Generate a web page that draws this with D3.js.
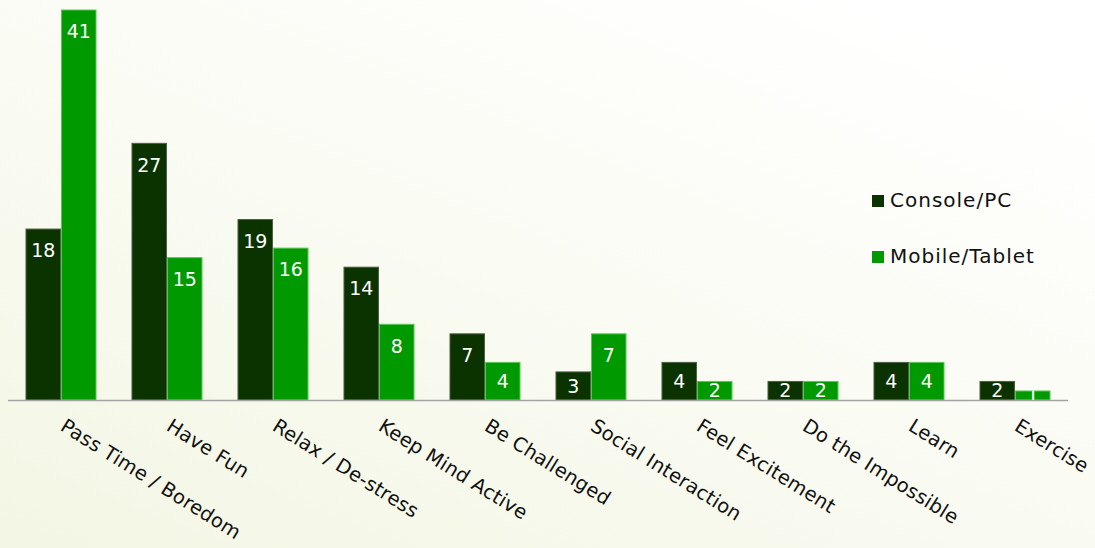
<!DOCTYPE html>
<html>
<head>
<meta charset="utf-8">
<script src="https://cdn.jsdelivr.net/npm/d3@7/dist/d3.min.js"></script>
<style>
  html, body { margin: 0; padding: 0; background: #fff; }
  svg { display: block; }
</style>
</head>
<body>
<svg id="chart" width="1095" height="548"></svg>
<script>
// Reasons for playing games, by platform
const categories = ["Pass Time / Boredom", "Have Fun", "Relax / De-stress", "Keep Mind Active",
  "Be Challenged", "Social Interaction", "Feel Excitement", "Do the Impossible", "Learn", "Exercise"];
const seriesNames = ["Console/PC", "Mobile/Tablet"];
const consolePC = [18, 27, 19, 14, 7, 3, 4, 2, 4, 2];
const mobileTablet = [41, 15, 16, 8, 4, 7, 2, 2, 4, 1];
const seriesColors = ["#0a3300", "#009a00"];
const seriesStrokes = ["#4f5f48", "#5cc45c"];

const W = 1095, H = 548;
const FONT = "'DejaVu Sans', sans-serif";
const svg = d3.select("#chart");

// soft diagonal background wash
const defs = svg.append("defs");
const bg = defs.append("linearGradient").attr("id", "bg")
  .attr("x1", "0%").attr("y1", "100%").attr("x2", "80%").attr("y2", "0%");
bg.append("stop").attr("offset", "0%").attr("stop-color", "#f3f6e4");
bg.append("stop").attr("offset", "55%").attr("stop-color", "#fafbf3");
bg.append("stop").attr("offset", "100%").attr("stop-color", "#ffffff");
svg.append("rect").attr("width", W).attr("height", H).attr("fill", "url(#bg)");

const x = d3.scaleBand().domain(categories).range([8, 1068])
  .paddingInner(0.33).paddingOuter(0.165);
const xs = d3.scaleBand().domain(seriesNames).range([0, x.bandwidth()]);
const y = d3.scaleLinear().domain([0, 41]).range([400, 9.5]);

const rows = categories.map((c, i) => ({
  cat: c,
  vals: [consolePC[i], mobileTablet[i]]
}));

const groups = svg.append("g").selectAll("g").data(rows).join("g")
  .attr("transform", d => `translate(${x(d.cat)},0)`);

const bars = groups.selectAll("g.bar")
  .data((d, gi) => d.vals.map((v, si) => ({ v, si, id: `c${gi}_${si}` })))
  .join("g").attr("class", "bar");

bars.append("clipPath").attr("id", d => d.id)
  .append("rect")
  .attr("x", d => xs(seriesNames[d.si]))
  .attr("y", d => y(d.v))
  .attr("width", xs.bandwidth())
  .attr("height", d => y(0) - y(d.v));

bars.append("rect")
  .attr("x", d => xs(seriesNames[d.si]) + 0.5)
  .attr("y", d => y(d.v) + 0.5)
  .attr("width", xs.bandwidth() - 1)
  .attr("height", d => Math.max(0, y(0) - y(d.v) - 0.5))
  .attr("fill", d => seriesColors[d.si])
  .attr("stroke", d => seriesStrokes[d.si])
  .attr("stroke-width", 1);

// value labels, kept inside their bars
bars.append("text")
  .attr("clip-path", d => `url(#${d.id})`)
  .attr("x", d => xs(seriesNames[d.si]) + xs.bandwidth() / 2)
  .attr("y", d => Math.min(y(d.v) + 22, (y(d.v) + y(0)) / 2))
  .attr("dy", "0.36em")
  .attr("text-anchor", "middle")
  .attr("fill", "#ffffff")
  .style("font-family", FONT)
  .style("font-size", "19px")
  .text(d => d.v);

// baseline
svg.append("line")
  .attr("x1", 8).attr("x2", 1068)
  .attr("y1", y(0) + 0.5).attr("y2", y(0) + 0.5)
  .attr("stroke", "#a3a3a3").attr("stroke-width", 1.6);

// rotated category labels
svg.append("g").selectAll("text").data(categories).join("text")
  .attr("transform", c => `translate(${x(c) + x.bandwidth() / 2 + 6},417) rotate(32)`)
  .attr("dy", "0.76em")
  .attr("text-anchor", "start")
  .attr("fill", "#111")
  .style("font-family", FONT)
  .style("font-size", "19.5px")
  .style("letter-spacing", "0.2px")
  .text(c => c);

// legend
const legend = svg.append("g").selectAll("g").data(seriesNames).join("g")
  .attr("transform", (d, i) => `translate(872,${195 + i * 56})`);
legend.append("rect").attr("width", 12).attr("height", 12)
  .attr("fill", (d, i) => seriesColors[i]);
legend.append("text")
  .attr("x", 18).attr("y", 12)
  .attr("fill", "#111")
  .style("font-family", FONT)
  .style("font-size", "20px")
  .style("letter-spacing", "1px")
  .text(d => d);
</script>
</body>
</html>
